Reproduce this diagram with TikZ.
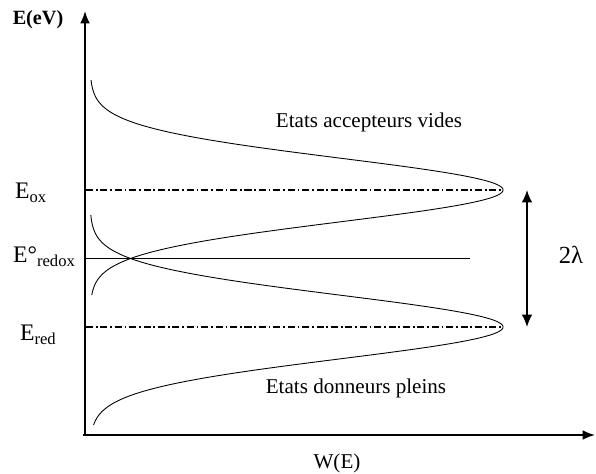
\documentclass[tikz,border=0pt]{standalone}
\usepackage{fontspec}
\setmainfont{Liberation Serif}
\usetikzlibrary{arrows.meta,positioning,calc}

\begin{document}
\begin{tikzpicture}[x=0.02cm, y=-0.02cm,
  every node/.style={font=\fontsize{12}{14}\selectfont, inner sep=1pt},
  lvlbl/.style={anchor=west, font=\fontsize{13.5}{16}\selectfont},
  axis/.style={line width=0.9pt, -{Latex[length=7pt,width=5.5pt]}},
  level/.style={line width=0.6pt, dash pattern=on 4pt off 1.6pt on 1pt off 1.6pt},
  dos/.style={line width=0.5pt},
  arr/.style={line width=0.9pt, {Latex[length=7pt,width=6pt]}-{Latex[length=7pt,width=6pt]}},
]
\useasboundingbox (0,0) rectangle (596,474);
% axes
\coordinate (O) at (83,435);
\coordinate (ytip) at (85,11);
\coordinate (xtip) at (595,435);
\draw[axis] (85,435) -- (ytip);
\draw[axis] (O) -- (xtip);
\node[font=\bfseries\fontsize{11.5}{14}\selectfont] (E) at (38,20) {E(eV)};
\node (W) at (337,463) {W(E)};

% energy levels
\coordinate (ox0) at (86,190);
\coordinate (pox) at (501,190);
\coordinate (red0) at (86,327);
\coordinate (pred) at (501,327);
\coordinate (rx0) at (85,258);
\coordinate (rx1) at (470,258);
\draw[level] (ox0) -- (pox);
\draw[level] (red0) -- (pred);
\draw[dos] (rx0) -- (rx1);
\node[lvlbl] (Eox) at (13,193) {E\textsubscript{ox}};
\node[lvlbl] (Eredox) at (11,257) {E°\textsubscript{redox}};
\node[lvlbl] (Ered) at (18,335) {E\textsubscript{red}};

% densities of states
\draw[dos] plot[domain=-110:105, samples=150, smooth]
  ({90+413*exp(-((\x)*(\x))/2022)}, {190+\x});
\draw[dos] plot[domain=-112:98, samples=150, smooth]
  ({90+413*exp(-((\x)*(\x))/2022)}, {327+\x});
\node (acc) at (369,122) {Etats accepteurs vides};
\node (don) at (356,388) {Etats donneurs pleins};

% reorganisation energy
\coordinate (ltop) at (527,190);
\coordinate (lbot) at (527,327);
\draw[arr] (ltop) -- (lbot);
\node[font=\fontsize{14}{16}\selectfont] (lam) at (571,255) {2λ};
\end{tikzpicture}
\end{document}
